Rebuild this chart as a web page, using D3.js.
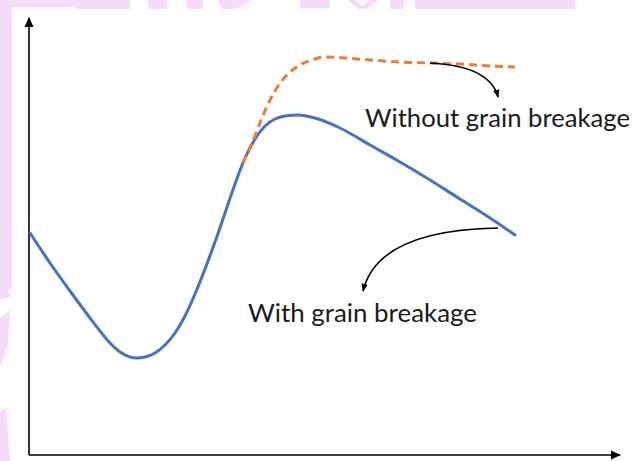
<!DOCTYPE html>
<html>
<head>
<meta charset="utf-8">
<script src="https://cdn.jsdelivr.net/npm/d3@7"></script>
<style>
  html, body { margin: 0; padding: 0; background: #ffffff; }
  svg { display: block; }
  text { font-family: Lato, "Open Sans", sans-serif; fill: #1a1a1a; }
</style>
</head>
<body>
<svg id="chart" width="632" height="461"></svg>
<script>
// Qualitative response curves (arbitrary units)
const withBreakageX = [1, 21, 41, 61, 71, 81, 91, 101, 108, 116, 126, 136, 146, 156, 166, 176, 186, 196, 206, 216, 226, 236, 246, 256, 269, 286, 311, 341, 371, 401, 431, 461, 486];
const withBreakageY = [222, 192, 164, 137, 124, 112, 103, 98, 97, 98, 102, 110, 122, 139, 161, 186, 213, 242, 271, 297, 316, 329, 336, 339, 340, 337, 327, 310, 293, 275, 256, 237, 220];
const withoutBreakageX = [214, 219, 224, 229, 235, 241, 249, 259, 271, 283, 296, 316, 341, 371, 401, 431, 461, 486];
const withoutBreakageY = [292, 303, 314, 327, 342, 355, 369, 381, 390, 395, 398, 397, 395, 393, 392, 391, 389, 388];
const labels = ["Without grain breakage", "With grain breakage"];

const svg = d3.select("#chart");

// Faint background decoration
const deco = svg.append("g").attr("fill", "#f5dcfb");
const topBars = [[0, 130, 7], [74, 130, 9], [148, 167, 9], [187, 203, 9], [300, 330, 8], [390, 404, 9], [415, 575, 9]];
topBars.forEach(([a, b, h]) => deco.append("rect").attr("x", a).attr("y", 0).attr("width", b - a).attr("height", h));
deco.append("polygon").attr("points", "218,0 252,0 236,9 222,9");
deco.append("polygon").attr("points", "300,0 322,0 320,9");
deco.append("polygon").attr("points", "348,0 356,0 362,6 368,0 378,0 366,9 358,9");
deco.append("rect").attr("x", 0).attr("y", 0).attr("width", 12).attr("height", 288);
deco.append("polygon").attr("points", "0,288 12,286 8,292 12,296 0,300");
deco.append("polygon").attr("points", "0,318 10,310 8,345 0,368");
deco.append("polygon").attr("points", "0,412 6,408 10,461 0,461");

const x = d3.scaleLinear().domain([0, 591]).range([29, 620]);
const y = d3.scaleLinear().domain([0, 437]).range([455, 18]);

// Arrowhead markers
const defs = svg.append("defs");
defs.append("marker").attr("id", "axisHead")
  .attr("viewBox", "0 0 10 10").attr("refX", 9).attr("refY", 5)
  .attr("markerUnits", "userSpaceOnUse").attr("markerWidth", 10).attr("markerHeight", 10)
  .attr("orient", "auto")
  .append("path").attr("d", "M0,0.5 L10,5 L0,9.5 Z").attr("fill", "#000");
defs.append("marker").attr("id", "noteHead")
  .attr("viewBox", "0 0 10 10").attr("refX", 9).attr("refY", 5)
  .attr("markerUnits", "userSpaceOnUse").attr("markerWidth", 8).attr("markerHeight", 8)
  .attr("orient", "auto")
  .append("path").attr("d", "M0,1 L10,5 L0,9 Z").attr("fill", "#000");

// Axes with arrowheads
svg.append("line")
  .attr("x1", x(0)).attr("y1", y(0)).attr("x2", x(0)).attr("y2", y(437))
  .attr("stroke", "#000").attr("stroke-width", 1.6).attr("marker-end", "url(#axisHead)");
svg.append("line")
  .attr("x1", x(0)).attr("y1", y(0)).attr("x2", x(591)).attr("y2", y(0))
  .attr("stroke", "#000").attr("stroke-width", 1.6).attr("marker-end", "url(#axisHead)");

const line = d3.line().x(d => x(d[0])).y(d => y(d[1])).curve(d3.curveMonotoneX);

svg.append("path")
  .datum(d3.zip(withBreakageX, withBreakageY))
  .attr("d", line)
  .attr("fill", "none").attr("stroke", "#4472c4").attr("stroke-width", 3)
  .attr("stroke-linecap", "round");

svg.append("path")
  .datum(d3.zip(withoutBreakageX, withoutBreakageY))
  .attr("d", line)
  .attr("fill", "none").attr("stroke", "#ed7d31").attr("stroke-width", 3)
  .attr("stroke-dasharray", "8,5");

// Annotation arrows
const p1 = [x(401), y(392)];
const t1 = [498, 97];
svg.append("path")
  .attr("d", `M${p1[0]},${p1[1]} Q${490},${66} ${t1[0]},${t1[1]}`)
  .attr("fill", "none").attr("stroke", "#000").attr("stroke-width", 1.6)
  .attr("marker-end", "url(#noteHead)");

const p2 = [498, 228];
const t2 = [363, 291];
svg.append("path")
  .attr("d", `M${p2[0]},${p2[1]} Q${378},${230} ${t2[0]},${t2[1]}`)
  .attr("fill", "none").attr("stroke", "#000").attr("stroke-width", 1.6)
  .attr("marker-end", "url(#noteHead)");

svg.append("text").attr("x", 365).attr("y", 127)
  .attr("font-size", 25).attr("textLength", 265).attr("lengthAdjust", "spacingAndGlyphs")
  .text(labels[0]);
svg.append("text").attr("x", 248).attr("y", 322)
  .attr("font-size", 25).attr("textLength", 229).attr("lengthAdjust", "spacingAndGlyphs")
  .text(labels[1]);
</script>
</body>
</html>
